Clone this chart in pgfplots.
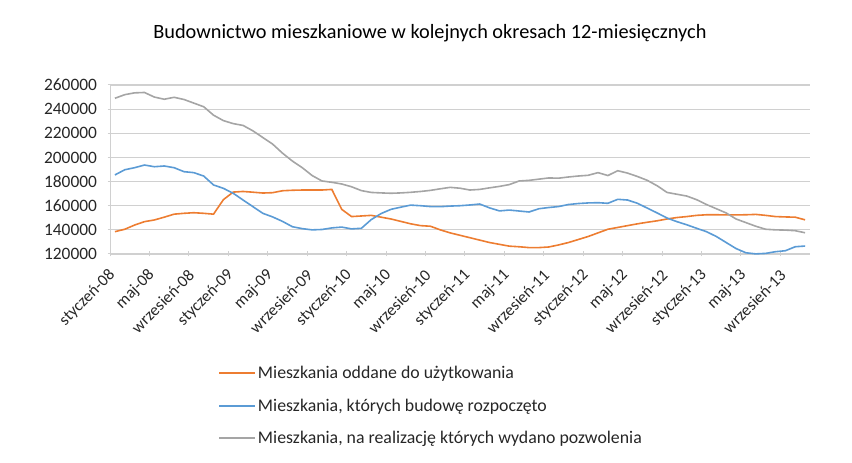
\documentclass[border=0pt]{standalone}
\usepackage{pgfplots}
\pgfplotsset{compat=1.18}
\usepackage{pgfplotstable}
\usepackage{fontspec}
\setmainfont{Carlito}
\definecolor{cOrange}{HTML}{ED7D31}
\definecolor{cBlue}{HTML}{5B9BD5}
\definecolor{cGray}{HTML}{A5A5A5}
\definecolor{cGrid}{HTML}{D0D0D0}
\pgfplotstableread{
i a b c
0 138500 185500 249000
1 140500 189800 252000
2 144000 191500 253500
3 146800 193700 253800
4 148200 192300 250000
5 150500 192900 248200
6 153000 191500 249800
7 153700 188200 248000
8 154200 187400 245000
9 153700 184600 242000
10 153000 177200 235000
11 165000 174400 230500
12 171300 170300 228000
13 171800 164700 226500
14 171200 159200 222000
15 170500 153700 216500
16 170800 150700 211000
17 172400 147000 203500
18 172800 142600 197000
19 173000 141000 191500
20 173000 140000 185000
21 173000 140300 180500
22 173500 141600 179400
23 157000 142300 178000
24 151000 140800 175700
25 151500 141300 172500
26 152000 148500 171000
27 150500 153500 170600
28 149000 157000 170300
29 147000 158800 170600
30 145000 160500 171100
31 143500 160000 171800
32 143000 159300 172700
33 140000 159200 174000
34 137500 159700 175200
35 135500 160000 174500
36 133500 160600 173000
37 131500 161400 173500
38 129500 158200 174800
39 128000 155700 176000
40 126500 156400 177500
41 126000 155600 180500
42 125300 154800 181000
43 125300 157500 182000
44 125800 158500 183000
45 127500 159300 182800
46 129500 161000 183800
47 132000 161800 184600
48 134500 162300 185200
49 137500 162500 187400
50 140500 162000 185000
51 142000 165300 189000
52 143500 164700 187000
53 145000 162000 184200
54 146300 158000 181000
55 147500 154000 176500
56 149000 149800 171000
57 150200 146800 169500
58 151000 144200 168000
59 152000 141300 165000
60 152500 138500 161000
61 152500 134500 157500
62 152400 129500 154000
63 152400 124500 149000
64 152500 121000 146000
65 152800 120100 143000
66 152000 120500 140500
67 151000 121900 140000
68 150700 122700 139800
69 150500 126000 139300
70 148300 126600 137600
}\datatable
\begin{document}
\begin{tikzpicture}
\useasboundingbox (0,0) rectangle (852pt,463pt);
\begin{axis}[
  at={(110pt,209pt)}, anchor=south west,
  scale only axis, width=700pt, height=169pt,
  xmin=-0.5, xmax=70.5, ymin=120000, ymax=260000,
  scaled y ticks=false,
  ytick={120000,140000,...,260000},
  xtick={0,4,...,68},
  xticklabels={styczeń-08,maj-08,wrzesień-08,styczeń-09,maj-09,wrzesień-09,styczeń-10,maj-10,wrzesień-10,styczeń-11,maj-11,wrzesień-11,styczeń-12,maj-12,wrzesień-12,styczeń-13,maj-13,wrzesień-13},
  minor xtick={-0.5,3.5,...,68},
  major x tick style={draw=none},
  minor x tick style={draw=cGrid, line width=1pt},
  major y tick style={draw=cGrid, line width=1pt},
  tick align=outside,
  major tick length=5pt, minor tick length=5pt,
  axis x line=bottom, axis y line=left,
  axis line style={-, draw=cGrid, line width=1pt},
  ymajorgrids, major grid style={draw=cGrid, line width=1.2pt},
  /pgf/number format/.cd, fixed, precision=0, 1000 sep={}, assume math mode=true,
  /pgfplots/.cd,
  tick label style={text=black!85},
  yticklabel style={xshift=-7pt, font=\fontsize{17.4}{20}\selectfont},
  xticklabel shift=14pt,
  xticklabel style={rotate=45, anchor=east, font=\fontsize{16.5}{19}\selectfont},
  title={Budownictwo mieszkaniowe w kolejnych okresach 12-miesięcznych},
  title style={at={(0.457,1.314)}, anchor=center, yshift=-7pt, font=\fontsize{20.3}{24}\selectfont, text=black},
  legend style={at={(0.15,-0.64)}, anchor=north west, draw=none, fill=none,
    font=\fontsize{17.8}{20}\selectfont, text=black!85, row sep=14.5pt},
  legend cell align=left,
  legend image code/.code={\draw[#1, line width=1.8pt] (0pt,0pt) -- (36pt,0pt);},
  clip=false,
]
\addplot[cOrange, line width=1.6pt] table[x=i, y=a] {\datatable};
\addlegendentry{Mieszkania oddane do użytkowania}
\addplot[cBlue, line width=1.6pt] table[x=i, y=b] {\datatable};
\addlegendentry{Mieszkania, których budowę rozpoczęto}
\addplot[cGray, line width=1.6pt] table[x=i, y=c] {\datatable};
\addlegendentry{Mieszkania, na realizację których wydano pozwolenia}
\end{axis}
\end{tikzpicture}
\end{document}
